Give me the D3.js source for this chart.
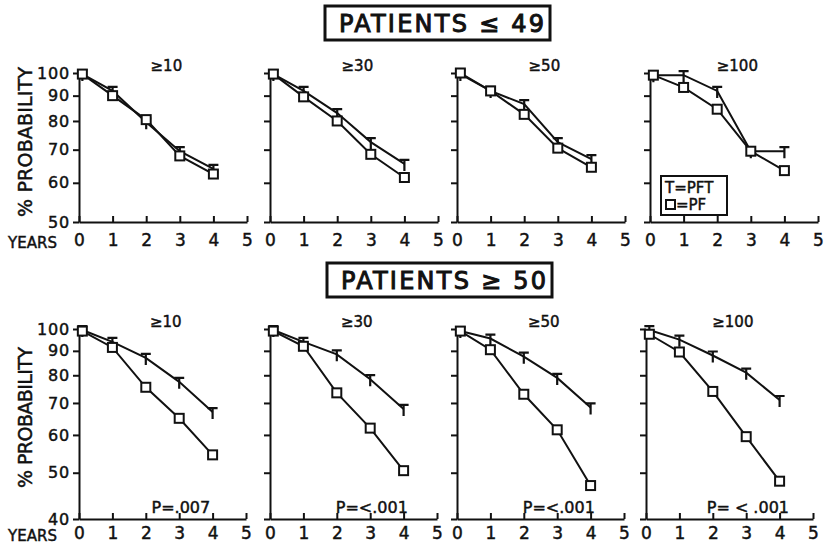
<!DOCTYPE html>
<html>
<head>
<meta charset="utf-8">
<script src="https://cdn.jsdelivr.net/npm/d3@7"></script>
<style>
  body { margin: 0; background: #fff; }
  text { stroke: #111; stroke-width: 0.45px; }
</style>
</head>
<body>
<svg id="chart" width="827" height="549"></svg>
<script>
// years of follow-up (first point sits just off the axis)
let years = [0.1, 1, 2, 3, 4];
let xTicks = [0, 1, 2, 3, 4, 5];
let groups = ["≥10", "≥30", "≥50", "≥100"];

// patients <= 49
let youngPF = [
  [99.5, 90, 80.5, 68, 62.5],
  [99.5, 89.5, 80, 68.5, 61.5],
  [100, 92, 82.5, 70.5, 64.5],
  [99, 93.5, 84.5, 69.5, 63.5]
];
let youngPFT = [
  [99.5, 92, 79.5, 69.5, 64],
  [99.5, 92, 83, 72.5, 65.5],
  [99.5, 92, 86.5, 72.5, 67],
  [99, 99, 92, 69.5, 69.5]
];
let youngTicks = [50, 60, 70, 80, 90, 100];

// patients >= 50
let oldPF = [
  [99, 91.5, 75.5, 65, 54.5],
  [99, 92, 73.5, 62, 50.5],
  [99, 90.5, 73, 61.5, 47],
  [97.5, 89.5, 74, 59.5, 48]
];
let oldPFT = [
  [99.5, 94, 87, 77.5, 67],
  [99.5, 94, 88.5, 78.5, 68],
  [99, 95.5, 87.5, 79, 68.5],
  [99.5, 95, 88, 81, 71]
];
let oldTicks = [40, 50, 60, 70, 80, 90, 100];
let pValues = ["P=.007", "P=<.001", "P=<.001", "P= < .001"];

let font = "DejaVu Sans";
let ink = "#111";
let svg = d3.select("#chart");

function drawTitle(svg, x0, x1, y0, y1, text) {
  svg.append("rect")
    .attr("x", x0)
    .attr("y", y0)
    .attr("width", x1 - x0)
    .attr("height", y1 - y0)
    .style("fill", "none")
    .style("stroke", ink)
    .style("stroke-width", 3);
  svg.append("text")
    .attr("x", x0 + 14)
    .attr("y", y1 - 8)
    .attr("textLength", x1 - x0 - 20)
    .attr("lengthAdjust", "spacing")
    .text(text)
    .style("fill", ink)
    .style("font-family", font)
    .style("stroke-width", 1)
    .style("font-size", "24px");
}

function drawPanel(opts) {
  let x = d3.scaleLinear().domain([0, 5]).range([opts.ox, opts.ox + opts.width]);
  let y = d3.scaleLog().domain(opts.domain).range(opts.range);

  let xAxis = d3.axisBottom(x)
    .tickValues(xTicks)
    .tickFormat(d3.format("d"))
    .tickSize(-6)
    .tickSizeOuter(0)
    .tickPadding(opts.xPad);
  let gx = svg.append("g")
    .attr("transform", "translate(0," + opts.range[0] + ")")
    .call(xAxis);
  gx.selectAll("text").style("font-size", "17px");

  let yAxis = d3.axisLeft(y)
    .tickValues(opts.ticks)
    .tickFormat(opts.labels ? d3.format("d") : "")
    .tickSize(6)
    .tickSizeOuter(0)
    .tickPadding(3);
  let gy = svg.append("g")
    .attr("transform", "translate(" + opts.ox + ",0)")
    .call(yAxis);
  gy.selectAll("text").style("font-size", "16px").attr("letter-spacing", 0.8);

  [gx, gy].forEach(function(g) {
    g.style("font-family", font);
    g.selectAll("path, line").style("stroke", ink).style("stroke-width", 2);
    g.selectAll("text").style("fill", ink);
  });

  let line = d3.line()
    .x(function(d, i) { return x(years[i]); })
    .y(function(d) { return y(d); });

  [opts.pft, opts.pf].forEach(function(series) {
    svg.append("path")
      .datum(series)
      .attr("d", line)
      .style("fill", "none")
      .style("stroke", ink)
      .style("stroke-width", 2);
  });

  // T markers (PFT)
  svg.selectAll(null)
    .data(opts.pft)
    .enter().append("path")
    .attr("d", function(d, i) {
      let cx = x(years[i]), cy = y(d);
      return "M" + (cx - 5) + "," + (cy - 4) + "H" + (cx + 5) +
             "M" + cx + "," + (cy - 4) + "V" + (cy + 7);
    })
    .style("fill", "none")
    .style("stroke", ink)
    .style("stroke-width", 2.2);

  // square markers (PF)
  svg.selectAll(null)
    .data(opts.pf)
    .enter().append("rect")
    .attr("x", function(d, i) { return x(years[i]) - 4.5; })
    .attr("y", function(d) { return y(d) - 4.5; })
    .attr("width", 9)
    .attr("height", 9)
    .style("fill", "#fff")
    .style("stroke", ink)
    .style("stroke-width", 2);

  // group label
  svg.append("text")
    .attr("x", x(2.6))
    .attr("y", opts.range[1] - 2)
    .text(opts.label)
    .style("fill", ink)
    .style("text-anchor", "middle")
    .style("font-family", font)
    .style("font-size", "15px");

  if (opts.pText) {
    svg.append("text")
      .attr("x", x(3.05))
      .attr("y", opts.range[0] - 6)
      .text(opts.pText)
      .style("fill", ink)
      .style("text-anchor", "middle")
      .style("font-family", font)
      .style("font-size", "16px");
  }

  if (opts.labels) {
    svg.append("text")
      .attr("x", 8)
      .attr("y", opts.range[0] + opts.xPad + 14)
      .attr("textLength", 49)
      .attr("lengthAdjust", "spacing")
      .text("YEARS")
      .style("fill", ink)
      .style("font-family", font)
      .style("font-size", "15px");
    let mid = (opts.labelTop + opts.labelBottom) / 2;
    svg.append("text")
      .attr("transform", "translate(32," + mid + ") rotate(-90)")
      .attr("x", -(opts.labelBottom - opts.labelTop) / 2)
      .attr("textLength", opts.labelBottom - opts.labelTop)
      .attr("lengthAdjust", "spacing")
      .text("% PROBABILITY")
      .style("fill", ink)
      .style("font-family", font)
      .style("font-size", "19px");
  }
  return { x: x, y: y };
}

drawTitle(svg, 325, 550, 6, 40, "PATIENTS ≤ 49");
drawTitle(svg, 327, 552, 263, 297, "PATIENTS ≥ 50");

let topOx = [79, 270, 457, 650];
let bottomOx = [79, 270, 457, 646];

groups.forEach(function(g, i) {
  drawPanel({
    ox: topOx[i], width: 168,
    domain: [50, 100], range: [222, 73], ticks: youngTicks,
    labels: i === 0, xPad: 12,
    pf: youngPF[i], pft: youngPFT[i], label: g,
    labelTop: 67, labelBottom: 217
  });
  drawPanel({
    ox: bottomOx[i], width: 167,
    domain: [40, 100], range: [519, 329], ticks: oldTicks,
    labels: i === 0, xPad: 8,
    pf: oldPF[i], pft: oldPFT[i], label: g, pText: pValues[i],
    labelTop: 347, labelBottom: 488
  });
});

// legend in last upper panel
let legend = svg.append("g").attr("transform", "translate(661,176)");
legend.append("rect")
  .attr("width", 66)
  .attr("height", 39)
  .style("fill", "#fff")
  .style("stroke", ink)
  .style("stroke-width", 2);
legend.append("text")
  .attr("x", 4)
  .attr("y", 17)
  .text("T=PFT")
  .style("fill", ink)
  .style("font-family", font)
  .style("font-size", "15px");
legend.append("rect")
  .attr("x", 5)
  .attr("y", 24)
  .attr("width", 9)
  .attr("height", 9)
  .style("fill", "#fff")
  .style("stroke", ink)
  .style("stroke-width", 2);
legend.append("text")
  .attr("x", 15)
  .attr("y", 34)
  .text("=PF")
  .style("fill", ink)
  .style("font-family", font)
  .style("font-size", "15px");
</script>
</body>
</html>
